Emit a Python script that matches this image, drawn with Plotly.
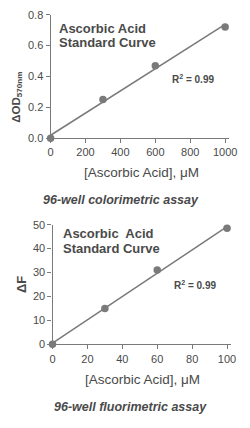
import numpy as np
import plotly.graph_objects as go

# Data
col_conc = [0, 300, 600, 1000]
col_od = [0.0, 0.25, 0.47, 0.72]
flu_conc = [0, 30, 60, 100]
flu_df = [0.0, 15.0, 31.0, 48.5]
col_xticks = [0, 200, 400, 600, 800, 1000]
col_yticks = [0.0, 0.2, 0.4, 0.6, 0.8]
flu_xticks = [0, 20, 40, 60, 80, 100]
flu_yticks = [0, 10, 20, 30, 40, 50]

W, H = 250, 428
def px(x): return x / W
def py(y): return 1 - y / H

GRAY = "#7a7a7a"
TXT = "#4a4a4a"
FONT = "Liberation Sans, Arial, sans-serif"

fig = go.Figure()

def add_panel(xs, ys, xaxis, yaxis):
    m, b = np.polyfit(xs, ys, 1)
    lx = np.array([xs[0], xs[-1]])
    fig.add_trace(go.Scatter(x=lx, y=m * lx + b, mode="lines",
                             line=dict(color=GRAY, width=1.5),
                             xaxis=xaxis, yaxis=yaxis, cliponaxis=False,
                             hoverinfo="skip", showlegend=False))
    fig.add_trace(go.Scatter(x=xs, y=ys, mode="markers",
                             marker=dict(color=GRAY, size=7.5),
                             xaxis=xaxis, yaxis=yaxis, cliponaxis=False,
                             showlegend=False))

add_panel(col_conc, col_od, "x", "y")
add_panel(flu_conc, flu_df, "x2", "y2")

ax_common = dict(showline=True, linecolor=GRAY, linewidth=1.2, ticks="outside",
                 ticklen=4, tickwidth=1.2, tickcolor=GRAY, showgrid=False,
                 zeroline=False, tickfont=dict(family=FONT, size=11, color=TXT))

fig.update_layout(
    width=W, height=H, margin=dict(l=0, r=0, t=0, b=0),
    paper_bgcolor="white", plot_bgcolor="white",
    xaxis=dict(domain=[px(50), px(237)], range=[0, 1020], tickvals=col_xticks,
               anchor="y", **ax_common),
    yaxis=dict(domain=[py(136), py(9)], range=[0, 0.8], tickvals=col_yticks,
               ticktext=[f"{v:.1f}" for v in col_yticks], anchor="x", **ax_common),
    xaxis2=dict(domain=[px(52), px(239)], range=[0, 102], tickvals=flu_xticks,
                anchor="y2", **ax_common),
    yaxis2=dict(domain=[py(348), py(225)], range=[0, 50], tickvals=flu_yticks,
                anchor="x2", **ax_common),
)

def ann(text, x, y, size, bold=False, italic=False, angle=0, xanchor="center"):
    t = text
    if bold:
        t = f"<b>{t}</b>"
    if italic:
        t = f"<i>{t}</i>"
    fig.add_annotation(text=t, x=px(x), y=py(y), xref="paper", yref="paper",
                       showarrow=False, textangle=angle, xanchor=xanchor,
                       yanchor="middle",
                       font=dict(family=FONT, size=size, color=TXT))

# Top panel texts
ann("Ascorbic Acid", 57, 23, 13, bold=True, xanchor="left")
ann("Standard Curve", 57, 38, 13, bold=True, xanchor="left")
ann("R<sup>2</sup> = 0.99", 175, 75, 10, bold=True, xanchor="left")
ann("ΔOD<sub>570nm</sub>", 15, 94, 11.5, bold=True, angle=-90)
ann("[Ascorbic Acid], μM", 145, 171, 13.5)
ann("96-well colorimetric assay", 124, 200, 12.5, bold=True, italic=True)

# Bottom panel texts
ann("Ascorbic  Acid", 61, 234, 13, bold=True, xanchor="left")
ann("Standard Curve", 61, 249, 13, bold=True, xanchor="left")
ann("R<sup>2</sup> = 0.99", 177, 287, 10, bold=True, xanchor="left")
ann("ΔF", 20, 287, 13, bold=True, angle=-90)
ann("[Ascorbic Acid], μM", 147, 384, 13.5)
ann("96-well fluorimetric assay", 134, 413, 12.5, bold=True, italic=True)

fig.write_html("out.html")
